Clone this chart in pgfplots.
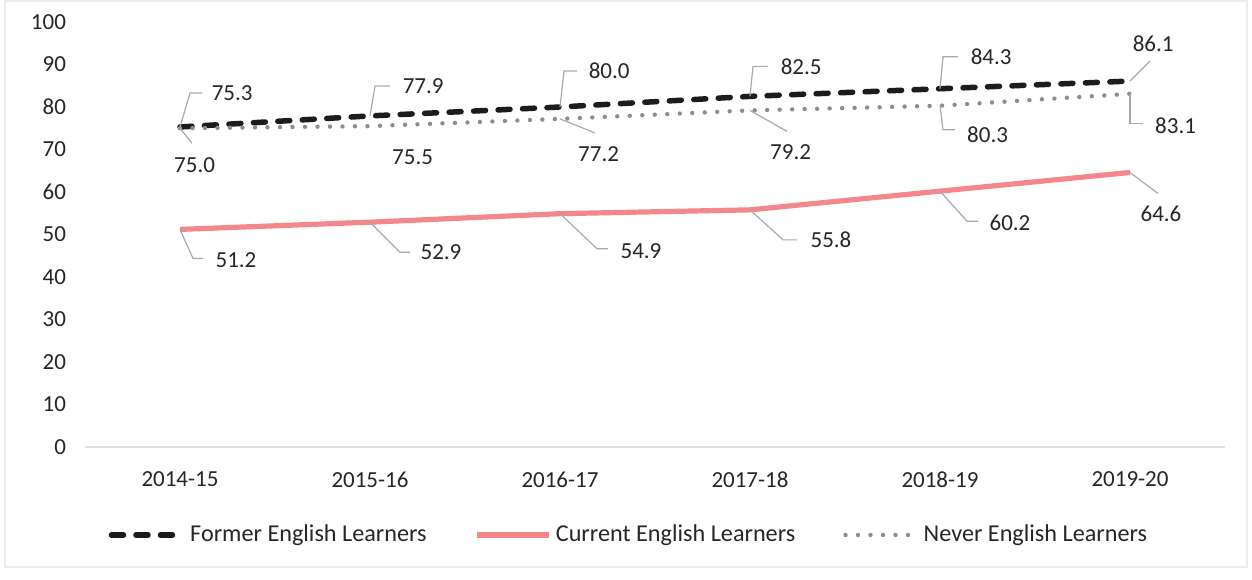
\documentclass[border=0pt]{standalone}
\usepackage{fontspec}
\setmainfont{Carlito}
\usepackage{pgfplots}
\usepackage{pgfplotstable}
\pgfplotsset{compat=1.18}
\usetikzlibrary{calc}

\definecolor{former}{HTML}{1C1C1C}
\definecolor{current}{HTML}{F3878A}
\definecolor{never}{HTML}{878F95}
\definecolor{leader}{HTML}{A3AAB0}
\definecolor{txt}{HTML}{262626}
\newcommand\fs{\fontsize{11.5}{13}\selectfont}
\newcommand\lfs{\fontsize{12.1}{14}\selectfont}

% label west anchor at point+(dx,dy) pt; leader: point -> point+(kx,ky) -> +(h,0)
\pgfplotstableread{
x y dx dy kx ky h
0 75.3 14.5 17 5 17 6
1 77.9 15 15 2.5 15 7.5
2 80.0 13 18 2 18 6.5
3 82.5 14 15 1.5 15 7.5
4 84.3 14 16 1.5 16 7.5
5 86.1 0 18.5 10 10 0
}\tformer
\pgfplotstableread{
x y dx dy kx ky h
0 51.2 16.5 -15.5 6.5 -14.5 5
1 52.9 24 -15 15 -15 5
2 54.9 29 -18.5 18.5 -17.5 5.5
3 55.8 29 -15 16.5 -15 7
4 60.2 23.5 -16 13.5 -15 5.5
5 64.6 4 -20.5 14 -10.5 0
}\tcurrent
\pgfplotstableread{
x y dx dy kx ky h
0 75.0 -4 -18.5 6 -7.5 0
1 75.5 10 -15.5 0 0 0
2 77.2 8 -17.5 17.5 -7 0
3 79.2 9 -21 18.5 -10.5 0
4 80.3 12.5 -14.5 1.5 -12 6
5 83.1 11.5 -16 0 -15 6.5
}\tnever

\begin{document}
\begin{tikzpicture}
\useasboundingbox (-42.5pt,-66pt) rectangle (583.5pt,223.5pt);
\draw[gray!15, line width=0.7pt] (-40pt,-60pt) rectangle (581pt,223pt);
\begin{axis}[
  at={(0pt,0pt)}, anchor=south west,
  scale only axis, width=570pt, height=212.5pt,
  xmin=-0.5, xmax=5.5, ymin=0, ymax=100,
  xtick={0,...,5},
  xticklabels={2014-15,2015-16,2016-17,2017-18,2018-19,2019-20},
  ytick={0,10,...,100},
  axis x line*=bottom, axis y line*=left,
  y axis line style={draw=none},
  x axis line style={draw=gray!25, line width=0.8pt},
  major tick length=0pt,
  tick label style={font=\fs, text=txt},
  xticklabel style={yshift=-9pt},
  yticklabel style={xshift=-6pt},
  /pgf/number format/assume math mode=true,
  clip=false, no markers,
  legend columns=3,
  legend style={at={(0.478,-0.207)}, anchor=center, draw=none, fill=none,
    font=\lfs, text=txt,
    /tikz/every even column/.append style={column sep=22pt}},
  legend image code/.code={\draw[#1] (0pt,0pt) -- (36pt,0pt);},
  lbl/.style={
    nodes near coords={\pgfmathprintnumber[fixed,fixed zerofill,precision=1]{\pgfplotspointmeta}},
    visualization depends on={\thisrow{dx}\as\ldx},
    visualization depends on={\thisrow{dy}\as\ldy},
    visualization depends on={\thisrow{kx}\as\lkx},
    visualization depends on={\thisrow{ky}\as\lky},
    visualization depends on={\thisrow{h}\as\lh},
    every node near coord/.append style={anchor=west, inner sep=0pt,
      font=\fs, text=txt, xshift=\ldx pt, yshift=\ldy pt,
      append after command={\pgfextra{\draw[leader, solid, line cap=butt, line width=0.6pt]
        ($(\tikzlastnode.west)-(\ldx pt,\ldy pt)$) -- ++(\lkx pt,\lky pt) -- ++(\lh pt,0pt);}}},
  },
]
\addplot[former, line width=2.75pt, line cap=round, dash pattern=on 6pt off 6.25pt, lbl]
  table[x=x, y=y] {\tformer};
\addplot[current, line width=2.6pt, line join=round, lbl]
  table[x=x, y=y] {\tcurrent};
\addplot[never, line width=2.2pt, line cap=round, dash pattern=on 0pt off 6.25pt, lbl]
  table[x=x, y=y] {\tnever};
\legend{Former English Learners, Current English Learners, Never English Learners}
\end{axis}
\end{tikzpicture}
\end{document}
